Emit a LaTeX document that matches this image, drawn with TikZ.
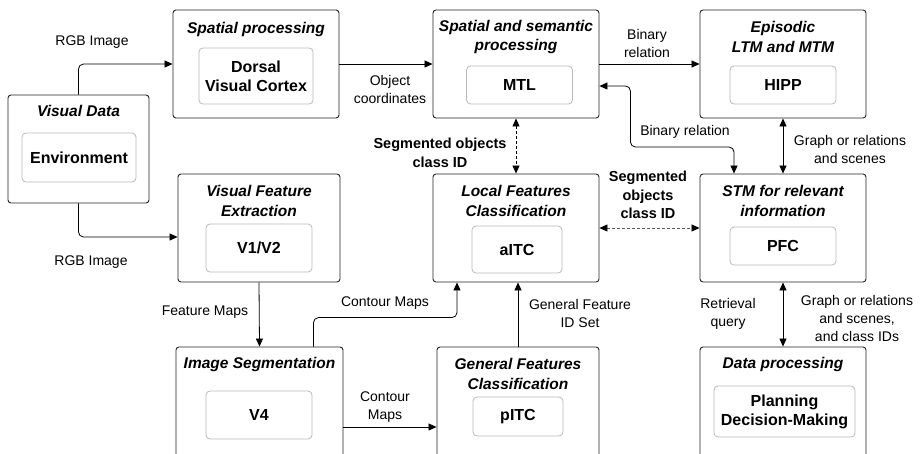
\documentclass[tikz,border=0pt]{standalone}
\usepackage{fontspec}
\setmainfont{Liberation Sans}
\usepackage{tikz}
\usetikzlibrary{arrows.meta,positioning,calc}
\definecolor{framegray}{RGB}{35,35,35}
\definecolor{innergray}{RGB}{185,185,185}
\definecolor{dashgray}{RGB}{90,90,90}

\begin{document}
\begin{tikzpicture}[
    x=1pt, y=-1pt,
    outer/.style={draw=framegray, line width=0.9pt, rounded corners=3pt, minimum width=166pt, minimum height=108pt, inner sep=0pt},
    lower/.style={outer, minimum height=160pt},
    inner/.style={draw=innergray, line width=0.8pt, rounded corners=4pt, inner sep=0pt, align=center, font=\fontsize{16}{19}\selectfont\bfseries},
    title/.style={align=center, inner sep=0pt, font=\fontsize{15.5}{19.5}\selectfont\bfseries\itshape},
    lbl/.style={align=center, inner sep=0pt, font=\fontsize{14}{18}\selectfont},
    boldlbl/.style={align=center, inner sep=0pt, font=\fontsize{14.5}{18.5}\selectfont\bfseries},
    link/.style={-{Triangle[length=8pt,width=7pt]}, line width=0.8pt, rounded corners=5pt},
    twoway/.style={{Triangle[length=8pt,width=7pt]}-{Triangle[length=8pt,width=7pt]}, line width=0.8pt, rounded corners=5pt},
    dashway/.style={twoway, dash pattern=on 3pt off 2pt},
    greyway/.style={{Triangle[length=8pt,width=7pt,color=black]}-{Triangle[length=8pt,width=7pt,color=black]}, line width=0.8pt, draw=dashgray, dash pattern=on 3pt off 2pt}
]
    \useasboundingbox (0,0) rectangle (923,453);
    \clip (0,0) rectangle (923,453);

    % outer blocks
    \node[outer, minimum width=141pt] (vd) at (78.5,149) {};
    \node[outer] (sp) at (256,64) {};
    \node[outer] (ss) at (516,64) {};
    \node[outer] (ep) at (783,64) {};
    \node[outer, minimum width=162pt] (vfe) at (259,228) {};
    \node[outer] (lf) at (516,228) {};
    \node[outer] (stm) at (783,228) {};
    \node[lower, minimum width=167pt] (seg) at (259.5,427) {};
    \node[lower, minimum width=162pt] (gf) at (518,427) {};
    \node[lower] (dp) at (783,427) {};

    % titles
    \node[title] (vdt) at (78.5,111) {Visual Data};
    \node[title] (spt) at (256,29) {Spatial processing};
    \node[title] (sst) at (516,37) {Spatial and semantic\\processing};
    \node[title] (ept) at (783,37) {Episodic\\LTM and MTM};
    \node[title] (vfet) at (259,201) {Visual Feature\\Extraction};
    \node[title] (lft) at (516,201) {Local Features\\Classification};
    \node[title] (stmt) at (783,201) {STM for relevant\\information};
    \node[title] (segt) at (259.5,364) {Image Segmentation};
    \node[title] (gft) at (518,374) {General Features\\Classification};
    \node[title] (dpt) at (783,364) {Data processing};

    % inner blocks
    \node[inner, minimum width=114pt, minimum height=49pt] (env) at (79,157.5) {Environment};
    \node[inner, minimum width=114pt, minimum height=56pt] (dvc) at (256,76) {Dorsal\\Visual Cortex};
    \node[inner, minimum width=106pt, minimum height=38pt] (mtl) at (519.5,85) {MTL};
    \node[inner, minimum width=106pt, minimum height=38pt] (hipp) at (783,85) {HIPP};
    \node[inner, minimum width=106pt, minimum height=48pt] (v12) at (259,248) {V1/V2};
    \node[inner, minimum width=90pt, minimum height=47pt] (aitc) at (517,249.5) {aITC};
    \node[inner, minimum width=106pt, minimum height=38pt] (pfc) at (783,246) {PFC};
    \node[inner, minimum width=106pt, minimum height=48pt] (v4) at (259,415) {V4};
    \node[inner, minimum width=90pt, minimum height=39pt] (pitc) at (518,416.5) {pITC};
    \node[inner, minimum width=141pt, minimum height=51pt] (plan) at (784.5,411.5) {Planning\\Decision-Making};

    % connectors
    \draw[link] (vd.north) |- (sp.west);
    \draw[link] (vd.south) |- ($(vfe.west)+(0,9)$);
    \draw[link] (sp.east) -- (ss.west);
    \draw[link] (ss.east) -- (ep.west);
    \draw[twoway] ($(ss.east)+(0,22)$) -- ++(31,0) -- ++(0,61) -| ($(stm.north)+(-49,0)$);
    \draw[twoway] (ep.south) -- (stm.north);
    \draw[dashway] (ss.south) -- (lf.north);
    \draw[greyway] (lf.east) -- (stm.west);
    \draw[link] (vfe.south) -- (seg.north);
    \draw[link] ($(seg.north)+(54,0)$) -- ++(0,-29) -| ($(lf.south)+(-59,0)$);
    \draw[link] (seg.east) -- (gf.west);
    \draw[link] (gf.north) -- (gf.north |- lf.south);
    \draw[twoway] (stm.south) -- (dp.north);

    % connector labels
    \node[lbl] (rgbup) at (92,42) {RGB Image};
    \node[lbl] (rgbdown) at (91,262) {RGB Image};
    \node[lbl] (objco) at (390,89) {Object\\coordinates};
    \node[lbl] (binup) at (647,43) {Binary\\relation};
    \node[lbl] (bindown) at (685,132) {Binary relation};
    \node[lbl] (graphup) at (850,149) {Graph or relations\\and scenes};
    \node[boldlbl] (segup) at (440,153) {Segmented objects\\class ID};
    \node[boldlbl] (segside) at (648,195) {Segmented\\objects\\class ID};
    \node[lbl] (featmaps) at (205,312) {Feature Maps};
    \node[lbl] (contup) at (385,303) {Contour Maps};
    \node[lbl] (contdown) at (385,407) {Contour\\Maps};
    \node[lbl] (genid) at (580,313) {General Feature\\ID Set};
    \node[lbl] (retq) at (728,314) {Retrieval\\query};
    \node[lbl] (graphdown) at (857,318) {Graph or relations\\and scenes,\\and class IDs};
\end{tikzpicture}
\end{document}
